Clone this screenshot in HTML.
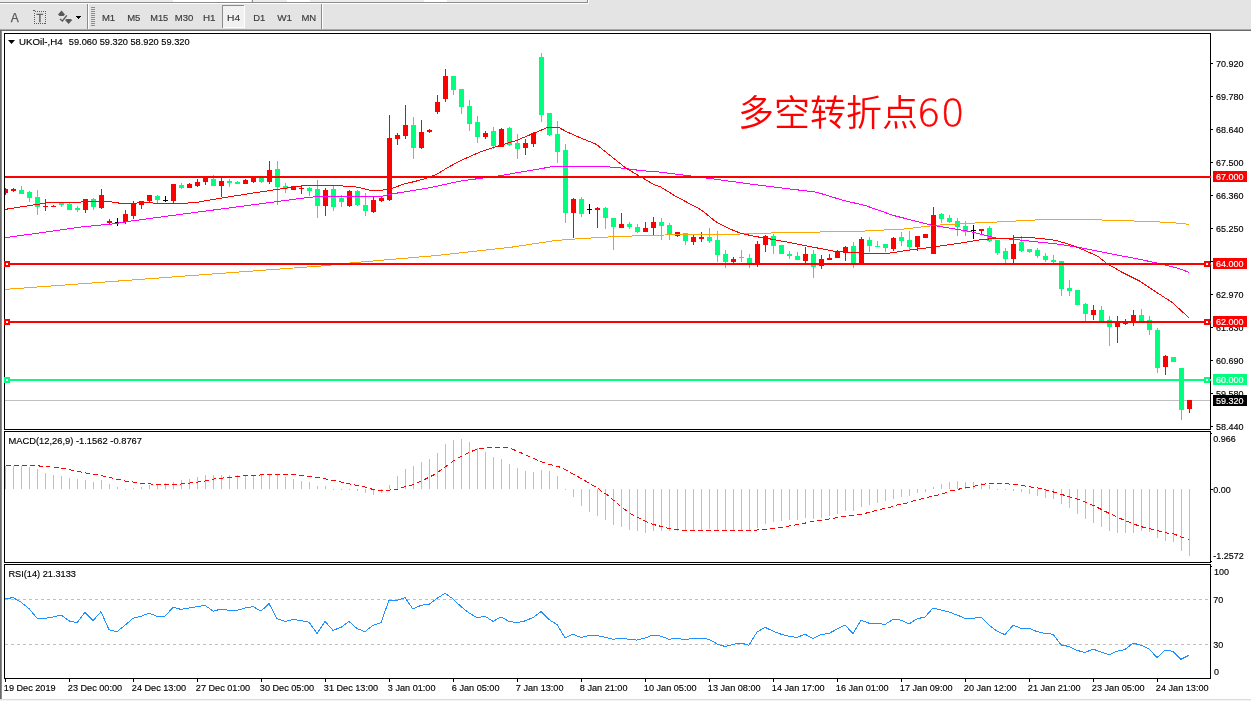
<!DOCTYPE html><html><head><meta charset="utf-8"><title>UKOil H4</title>
<style>
html,body{margin:0;padding:0;background:#fff;}
body{width:1251px;height:701px;overflow:hidden;position:relative;font-family:"Liberation Sans","Noto Sans CJK SC",sans-serif;}
svg{position:absolute;left:0;top:0;display:block}
text{font-family:"Liberation Sans","Noto Sans CJK SC",sans-serif;}
.ax{font-size:9.6px;fill:#000;stroke:#000;stroke-width:0.15px}.axw{font-size:9.6px;fill:#fff;stroke:#fff;stroke-width:0.15px}
.tb{font-size:9.6px;fill:#3a3a3a;stroke:#3a3a3a;stroke-width:0.15px}
.cj{font-family:"Liberation Sans","Noto Sans CJK SC",sans-serif;font-weight:350;font-size:36px;fill:#ff0000}.dg{font-family:"DejaVu Sans","Liberation Sans",sans-serif;font-weight:200;font-size:37.5px;stroke:#ff0000;stroke-width:0.5px}
</style></head><body>
<svg width="1251" height="701" viewBox="0 0 1251 701">
<g shape-rendering="crispEdges">
<rect x="0" y="0" width="1251" height="701" fill="#ffffff"/>
<rect x="0" y="0" width="1251" height="29" fill="#e4e4e4"/>
<rect x="0" y="0" width="588" height="2" fill="#ececec"/>
<rect x="173" y="0" width="78" height="2" fill="#ffffff"/>
<rect x="287" y="0" width="23" height="2" fill="#ffffff"/>
<rect x="424" y="0" width="23" height="2" fill="#ffffff"/>
<rect x="0" y="2" width="588" height="1" fill="#8c8c8c"/>
<rect x="0" y="3" width="589" height="1" fill="#ffffff"/>
<rect x="587" y="0" width="1" height="3" fill="#8c8c8c"/>
<rect x="588" y="0" width="1" height="4" fill="#ffffff"/>
<rect x="252" y="0" width="1" height="2" fill="#8c8c8c"/>
<rect x="0" y="29" width="1251" height="1" fill="#a8a8a8"/>
<rect x="0" y="30" width="1251" height="1" fill="#6a6a6a"/>
<rect x="0" y="31" width="1" height="668" fill="#6a6a6a"/>
<rect x="1" y="31" width="1" height="668" fill="#8c8c8c"/>
<rect x="0" y="699" width="1251" height="1" fill="#dcdcdc"/>
<rect x="0" y="700" width="1251" height="1" fill="#f4f4f4"/>
<rect x="87" y="4" width="1" height="25" fill="#8c8c8c"/>
<rect x="88" y="4" width="1" height="25" fill="#ffffff"/>
<rect x="321" y="4" width="1" height="25" fill="#8c8c8c"/>
<rect x="322" y="4" width="1" height="25" fill="#ffffff"/>
<rect x="91" y="7" width="4" height="1" fill="#8c8c8c"/>
<rect x="91" y="9" width="4" height="1" fill="#8c8c8c"/>
<rect x="91" y="11" width="4" height="1" fill="#8c8c8c"/>
<rect x="91" y="13" width="4" height="1" fill="#8c8c8c"/>
<rect x="91" y="15" width="4" height="1" fill="#8c8c8c"/>
<rect x="91" y="17" width="4" height="1" fill="#8c8c8c"/>
<rect x="91" y="19" width="4" height="1" fill="#8c8c8c"/>
<rect x="91" y="21" width="4" height="1" fill="#8c8c8c"/>
<rect x="91" y="23" width="4" height="1" fill="#8c8c8c"/>
<rect x="91" y="25" width="4" height="1" fill="#8c8c8c"/>
<rect x="222" y="5" width="23" height="23" fill="#f1f1f1"/>
<rect x="222" y="5" width="22" height="1" fill="#8c8c8c"/>
<rect x="222" y="5" width="1" height="23" fill="#8c8c8c"/>
<rect x="223" y="27" width="22" height="1" fill="#ffffff"/>
<rect x="244" y="6" width="1" height="22" fill="#ffffff"/>
</g>
<text x="10.8" y="22" font-size="12" fill="#595959" stroke="#595959" stroke-width="0.25">A</text>
<rect x="34.5" y="11.5" width="11" height="12" fill="none" stroke="#595959" stroke-width="1" stroke-dasharray="1 1" shape-rendering="crispEdges"/>
<rect x="33" y="10" width="2" height="1" fill="#595959" shape-rendering="crispEdges"/>
<text x="36.4" y="22" font-size="11" fill="#595959" stroke="#595959" stroke-width="0.3">T</text>
<path d="M61.5 10.5 L65 14.5 L63.5 16 L59.5 16 L58 14.5 Z" fill="#595959"/>
<path d="M68.6 24 L72.2 20 L70.6 19 L66.6 19 L65 20 Z" fill="#595959"/>
<path d="M60 19 L62.4 21 L66.8 15.4" fill="none" stroke="#595959" stroke-width="1.3"/>
<path d="M76 16 L81 16 L78.5 19 Z" fill="#000" shape-rendering="crispEdges"/>
<text class="tb" x="101.9" y="21.2" textLength="13.3" lengthAdjust="spacingAndGlyphs">M1</text>
<text class="tb" x="127.2" y="21.2" textLength="13.2" lengthAdjust="spacingAndGlyphs">M5</text>
<text class="tb" x="150.2" y="21.2" textLength="18.0" lengthAdjust="spacingAndGlyphs">M15</text>
<text class="tb" x="174.8" y="21.2" textLength="18.6" lengthAdjust="spacingAndGlyphs">M30</text>
<text class="tb" x="202.9" y="21.2" textLength="12.6" lengthAdjust="spacingAndGlyphs">H1</text>
<text class="tb" x="227.0" y="21.2" textLength="13.1" lengthAdjust="spacingAndGlyphs">H4</text>
<text class="tb" x="253.2" y="21.2" textLength="12.1" lengthAdjust="spacingAndGlyphs">D1</text>
<text class="tb" x="277.3" y="21.2" textLength="14.8" lengthAdjust="spacingAndGlyphs">W1</text>
<text class="tb" x="301.4" y="21.2" textLength="14.8" lengthAdjust="spacingAndGlyphs">MN</text>
<g shape-rendering="crispEdges">
<rect x="4" y="33" width="1207" height="1" fill="#000000"/>
<rect x="4" y="429" width="1207" height="1" fill="#000000"/>
<rect x="4" y="33" width="1" height="397" fill="#000000"/>
<rect x="1210" y="33" width="1" height="397" fill="#000000"/>
<rect x="4" y="431" width="1207" height="1" fill="#000000"/>
<rect x="4" y="562" width="1207" height="1" fill="#000000"/>
<rect x="4" y="431" width="1" height="132" fill="#000000"/>
<rect x="1210" y="431" width="1" height="132" fill="#000000"/>
<rect x="4" y="564" width="1207" height="1" fill="#000000"/>
<rect x="4" y="678" width="1207" height="1" fill="#000000"/>
<rect x="4" y="564" width="1" height="115" fill="#000000"/>
<rect x="1210" y="564" width="1" height="115" fill="#000000"/>
<rect x="1211" y="433" width="1" height="1" fill="#000000"/>
<rect x="1211" y="561" width="1" height="1" fill="#000000"/>
<rect x="1211" y="566" width="1" height="1" fill="#000000"/>
<rect x="1211" y="63" width="2" height="1" fill="#000000"/>
<rect x="1211" y="96" width="2" height="1" fill="#000000"/>
<rect x="1211" y="129" width="2" height="1" fill="#000000"/>
<rect x="1211" y="162" width="2" height="1" fill="#000000"/>
<rect x="1211" y="195" width="2" height="1" fill="#000000"/>
<rect x="1211" y="228" width="2" height="1" fill="#000000"/>
<rect x="1211" y="261" width="2" height="1" fill="#000000"/>
<rect x="1211" y="294" width="2" height="1" fill="#000000"/>
<rect x="1211" y="327" width="2" height="1" fill="#000000"/>
<rect x="1211" y="360" width="2" height="1" fill="#000000"/>
<rect x="1211" y="393" width="2" height="1" fill="#000000"/>
<rect x="1211" y="426" width="2" height="1" fill="#000000"/>
<rect x="1211" y="489" width="2" height="1" fill="#000000"/>
<rect x="5" y="679" width="1" height="3" fill="#000000"/>
<rect x="69" y="679" width="1" height="3" fill="#000000"/>
<rect x="133" y="679" width="1" height="3" fill="#000000"/>
<rect x="197" y="679" width="1" height="3" fill="#000000"/>
<rect x="261" y="679" width="1" height="3" fill="#000000"/>
<rect x="325" y="679" width="1" height="3" fill="#000000"/>
<rect x="389" y="679" width="1" height="3" fill="#000000"/>
<rect x="453" y="679" width="1" height="3" fill="#000000"/>
<rect x="517" y="679" width="1" height="3" fill="#000000"/>
<rect x="581" y="679" width="1" height="3" fill="#000000"/>
<rect x="645" y="679" width="1" height="3" fill="#000000"/>
<rect x="709" y="679" width="1" height="3" fill="#000000"/>
<rect x="773" y="679" width="1" height="3" fill="#000000"/>
<rect x="837" y="679" width="1" height="3" fill="#000000"/>
<rect x="901" y="679" width="1" height="3" fill="#000000"/>
<rect x="965" y="679" width="1" height="3" fill="#000000"/>
<rect x="1029" y="679" width="1" height="3" fill="#000000"/>
<rect x="1093" y="679" width="1" height="3" fill="#000000"/>
<rect x="1157" y="679" width="1" height="3" fill="#000000"/>
<rect x="5" y="400" width="1205" height="1" fill="#c0c0c0"/>
</g>
<g shape-rendering="crispEdges">
<rect x="5" y="466" width="1" height="23" fill="#c0c0c0"/>
<rect x="13" y="466" width="1" height="23" fill="#c0c0c0"/>
<rect x="21" y="466" width="1" height="23" fill="#c0c0c0"/>
<rect x="29" y="467" width="1" height="22" fill="#c0c0c0"/>
<rect x="37" y="469" width="1" height="20" fill="#c0c0c0"/>
<rect x="45" y="473" width="1" height="16" fill="#c0c0c0"/>
<rect x="53" y="475" width="1" height="14" fill="#c0c0c0"/>
<rect x="61" y="476" width="1" height="13" fill="#c0c0c0"/>
<rect x="69" y="478" width="1" height="11" fill="#c0c0c0"/>
<rect x="77" y="479" width="1" height="10" fill="#c0c0c0"/>
<rect x="85" y="480" width="1" height="9" fill="#c0c0c0"/>
<rect x="93" y="482" width="1" height="7" fill="#c0c0c0"/>
<rect x="101" y="480" width="1" height="9" fill="#c0c0c0"/>
<rect x="109" y="484" width="1" height="5" fill="#c0c0c0"/>
<rect x="117" y="487" width="1" height="2" fill="#c0c0c0"/>
<rect x="125" y="489" width="1" height="1" fill="#c0c0c0"/>
<rect x="133" y="488" width="1" height="1" fill="#c0c0c0"/>
<rect x="141" y="487" width="1" height="2" fill="#c0c0c0"/>
<rect x="149" y="485" width="1" height="4" fill="#c0c0c0"/>
<rect x="157" y="484" width="1" height="5" fill="#c0c0c0"/>
<rect x="165" y="483" width="1" height="6" fill="#c0c0c0"/>
<rect x="173" y="482" width="1" height="7" fill="#c0c0c0"/>
<rect x="181" y="480" width="1" height="9" fill="#c0c0c0"/>
<rect x="189" y="479" width="1" height="10" fill="#c0c0c0"/>
<rect x="197" y="477" width="1" height="12" fill="#c0c0c0"/>
<rect x="205" y="475" width="1" height="14" fill="#c0c0c0"/>
<rect x="213" y="475" width="1" height="14" fill="#c0c0c0"/>
<rect x="221" y="475" width="1" height="14" fill="#c0c0c0"/>
<rect x="229" y="475" width="1" height="14" fill="#c0c0c0"/>
<rect x="237" y="475" width="1" height="14" fill="#c0c0c0"/>
<rect x="245" y="475" width="1" height="14" fill="#c0c0c0"/>
<rect x="253" y="475" width="1" height="14" fill="#c0c0c0"/>
<rect x="261" y="474" width="1" height="15" fill="#c0c0c0"/>
<rect x="269" y="474" width="1" height="15" fill="#c0c0c0"/>
<rect x="277" y="475" width="1" height="14" fill="#c0c0c0"/>
<rect x="285" y="477" width="1" height="12" fill="#c0c0c0"/>
<rect x="293" y="479" width="1" height="10" fill="#c0c0c0"/>
<rect x="301" y="481" width="1" height="8" fill="#c0c0c0"/>
<rect x="309" y="482" width="1" height="7" fill="#c0c0c0"/>
<rect x="317" y="486" width="1" height="3" fill="#c0c0c0"/>
<rect x="325" y="486" width="1" height="3" fill="#c0c0c0"/>
<rect x="333" y="489" width="1" height="1" fill="#c0c0c0"/>
<rect x="341" y="489" width="1" height="1" fill="#c0c0c0"/>
<rect x="349" y="489" width="1" height="1" fill="#c0c0c0"/>
<rect x="357" y="489" width="1" height="2" fill="#c0c0c0"/>
<rect x="365" y="489" width="1" height="4" fill="#c0c0c0"/>
<rect x="373" y="489" width="1" height="6" fill="#c0c0c0"/>
<rect x="381" y="489" width="1" height="4" fill="#c0c0c0"/>
<rect x="389" y="485" width="1" height="4" fill="#c0c0c0"/>
<rect x="397" y="476" width="1" height="13" fill="#c0c0c0"/>
<rect x="405" y="469" width="1" height="20" fill="#c0c0c0"/>
<rect x="413" y="466" width="1" height="23" fill="#c0c0c0"/>
<rect x="421" y="462" width="1" height="27" fill="#c0c0c0"/>
<rect x="429" y="459" width="1" height="30" fill="#c0c0c0"/>
<rect x="437" y="453" width="1" height="36" fill="#c0c0c0"/>
<rect x="445" y="444" width="1" height="45" fill="#c0c0c0"/>
<rect x="453" y="440" width="1" height="49" fill="#c0c0c0"/>
<rect x="461" y="439" width="1" height="50" fill="#c0c0c0"/>
<rect x="469" y="442" width="1" height="47" fill="#c0c0c0"/>
<rect x="477" y="448" width="1" height="41" fill="#c0c0c0"/>
<rect x="485" y="452" width="1" height="37" fill="#c0c0c0"/>
<rect x="493" y="457" width="1" height="32" fill="#c0c0c0"/>
<rect x="501" y="459" width="1" height="30" fill="#c0c0c0"/>
<rect x="509" y="464" width="1" height="25" fill="#c0c0c0"/>
<rect x="517" y="468" width="1" height="21" fill="#c0c0c0"/>
<rect x="525" y="471" width="1" height="18" fill="#c0c0c0"/>
<rect x="533" y="472" width="1" height="17" fill="#c0c0c0"/>
<rect x="541" y="470" width="1" height="19" fill="#c0c0c0"/>
<rect x="549" y="471" width="1" height="18" fill="#c0c0c0"/>
<rect x="557" y="476" width="1" height="13" fill="#c0c0c0"/>
<rect x="565" y="489" width="1" height="1" fill="#c0c0c0"/>
<rect x="573" y="489" width="1" height="8" fill="#c0c0c0"/>
<rect x="581" y="489" width="1" height="17" fill="#c0c0c0"/>
<rect x="589" y="489" width="1" height="23" fill="#c0c0c0"/>
<rect x="597" y="489" width="1" height="27" fill="#c0c0c0"/>
<rect x="605" y="489" width="1" height="31" fill="#c0c0c0"/>
<rect x="613" y="489" width="1" height="36" fill="#c0c0c0"/>
<rect x="621" y="489" width="1" height="38" fill="#c0c0c0"/>
<rect x="629" y="489" width="1" height="41" fill="#c0c0c0"/>
<rect x="637" y="489" width="1" height="42" fill="#c0c0c0"/>
<rect x="645" y="489" width="1" height="44" fill="#c0c0c0"/>
<rect x="653" y="489" width="1" height="42" fill="#c0c0c0"/>
<rect x="661" y="489" width="1" height="42" fill="#c0c0c0"/>
<rect x="669" y="489" width="1" height="42" fill="#c0c0c0"/>
<rect x="677" y="489" width="1" height="42" fill="#c0c0c0"/>
<rect x="685" y="489" width="1" height="42" fill="#c0c0c0"/>
<rect x="693" y="489" width="1" height="42" fill="#c0c0c0"/>
<rect x="701" y="489" width="1" height="41" fill="#c0c0c0"/>
<rect x="709" y="489" width="1" height="40" fill="#c0c0c0"/>
<rect x="717" y="489" width="1" height="41" fill="#c0c0c0"/>
<rect x="725" y="489" width="1" height="42" fill="#c0c0c0"/>
<rect x="733" y="489" width="1" height="42" fill="#c0c0c0"/>
<rect x="741" y="489" width="1" height="42" fill="#c0c0c0"/>
<rect x="749" y="489" width="1" height="42" fill="#c0c0c0"/>
<rect x="757" y="489" width="1" height="39" fill="#c0c0c0"/>
<rect x="765" y="489" width="1" height="35" fill="#c0c0c0"/>
<rect x="773" y="489" width="1" height="33" fill="#c0c0c0"/>
<rect x="781" y="489" width="1" height="32" fill="#c0c0c0"/>
<rect x="789" y="489" width="1" height="31" fill="#c0c0c0"/>
<rect x="797" y="489" width="1" height="31" fill="#c0c0c0"/>
<rect x="805" y="489" width="1" height="29" fill="#c0c0c0"/>
<rect x="813" y="489" width="1" height="30" fill="#c0c0c0"/>
<rect x="821" y="489" width="1" height="29" fill="#c0c0c0"/>
<rect x="829" y="489" width="1" height="27" fill="#c0c0c0"/>
<rect x="837" y="489" width="1" height="25" fill="#c0c0c0"/>
<rect x="845" y="489" width="1" height="22" fill="#c0c0c0"/>
<rect x="853" y="489" width="1" height="22" fill="#c0c0c0"/>
<rect x="861" y="489" width="1" height="18" fill="#c0c0c0"/>
<rect x="869" y="489" width="1" height="16" fill="#c0c0c0"/>
<rect x="877" y="489" width="1" height="14" fill="#c0c0c0"/>
<rect x="885" y="489" width="1" height="12" fill="#c0c0c0"/>
<rect x="893" y="489" width="1" height="10" fill="#c0c0c0"/>
<rect x="901" y="489" width="1" height="8" fill="#c0c0c0"/>
<rect x="909" y="489" width="1" height="7" fill="#c0c0c0"/>
<rect x="917" y="489" width="1" height="4" fill="#c0c0c0"/>
<rect x="925" y="489" width="1" height="3" fill="#c0c0c0"/>
<rect x="933" y="487" width="1" height="2" fill="#c0c0c0"/>
<rect x="941" y="484" width="1" height="5" fill="#c0c0c0"/>
<rect x="949" y="482" width="1" height="7" fill="#c0c0c0"/>
<rect x="957" y="481" width="1" height="8" fill="#c0c0c0"/>
<rect x="965" y="482" width="1" height="7" fill="#c0c0c0"/>
<rect x="973" y="482" width="1" height="7" fill="#c0c0c0"/>
<rect x="981" y="483" width="1" height="6" fill="#c0c0c0"/>
<rect x="989" y="485" width="1" height="4" fill="#c0c0c0"/>
<rect x="997" y="489" width="1" height="1" fill="#c0c0c0"/>
<rect x="1005" y="489" width="1" height="1" fill="#c0c0c0"/>
<rect x="1013" y="489" width="1" height="2" fill="#c0c0c0"/>
<rect x="1021" y="489" width="1" height="3" fill="#c0c0c0"/>
<rect x="1029" y="489" width="1" height="5" fill="#c0c0c0"/>
<rect x="1037" y="489" width="1" height="7" fill="#c0c0c0"/>
<rect x="1045" y="489" width="1" height="9" fill="#c0c0c0"/>
<rect x="1053" y="489" width="1" height="10" fill="#c0c0c0"/>
<rect x="1061" y="489" width="1" height="15" fill="#c0c0c0"/>
<rect x="1069" y="489" width="1" height="19" fill="#c0c0c0"/>
<rect x="1077" y="489" width="1" height="25" fill="#c0c0c0"/>
<rect x="1085" y="489" width="1" height="30" fill="#c0c0c0"/>
<rect x="1093" y="489" width="1" height="34" fill="#c0c0c0"/>
<rect x="1101" y="489" width="1" height="38" fill="#c0c0c0"/>
<rect x="1109" y="489" width="1" height="42" fill="#c0c0c0"/>
<rect x="1117" y="489" width="1" height="44" fill="#c0c0c0"/>
<rect x="1125" y="489" width="1" height="44" fill="#c0c0c0"/>
<rect x="1133" y="489" width="1" height="44" fill="#c0c0c0"/>
<rect x="1141" y="489" width="1" height="42" fill="#c0c0c0"/>
<rect x="1149" y="489" width="1" height="43" fill="#c0c0c0"/>
<rect x="1157" y="489" width="1" height="49" fill="#c0c0c0"/>
<rect x="1165" y="489" width="1" height="52" fill="#c0c0c0"/>
<rect x="1173" y="489" width="1" height="53" fill="#c0c0c0"/>
<rect x="1181" y="489" width="1" height="62" fill="#c0c0c0"/>
<rect x="1189" y="489" width="1" height="67" fill="#c0c0c0"/>
<line x1="5" y1="599.5" x2="1210" y2="599.5" stroke="#c0c0c0" stroke-width="1" stroke-dasharray="3 3"/>
<line x1="5" y1="644.5" x2="1210" y2="644.5" stroke="#c0c0c0" stroke-width="1" stroke-dasharray="3 3"/>
</g>
<polyline points="5.6,465.9 38.4,465.9 64.0,468.4 84.4,472.8 102.3,475.8 125.4,481.0 143.3,483.5 166.3,485.0 184.2,483.8 204.7,481.2 212.3,479.2 243.0,475.8 268.6,474.6 294.2,474.8 300.0,475.3 315.3,477.1 333.3,480.4 351.2,484.3 366.5,487.4 374.2,489.9 381.9,490.7 397.2,489.4 404.9,486.8 412.6,484.8 422.8,480.4 433.0,475.3 443.3,468.4 453.5,460.7 463.7,454.9 476.5,449.2 489.3,447.7 502.1,447.2 509.8,448.0 520.0,452.3 532.8,458.2 548.1,464.3 558.4,466.4 566.1,470.2 576.3,475.8 589.1,483.0 599.3,489.4 603.8,493.2 607.0,494.5 612.8,499.6 621.7,507.3 630.7,513.7 640.9,518.8 651.2,523.9 661.4,526.5 669.1,528.5 681.9,530.3 753.5,530.3 774.0,528.5 789.3,526.0 804.7,523.2 812.3,521.4 830.2,518.8 845.6,516.3 860.9,514.5 876.3,510.4 891.6,506.8 900.0,504.2 907.0,503.0 915.3,500.4 933.3,495.8 940.9,494.5 951.2,490.7 964.0,488.1 974.2,486.3 981.9,484.3 989.5,483.5 1004.9,483.5 1022.8,485.6 1038.1,488.1 1053.5,492.0 1068.8,496.6 1079.1,499.6 1094.4,506.0 1109.8,513.7 1125.1,520.6 1140.5,526.5 1155.8,530.3 1166.1,532.9 1173.7,533.7 1181.4,537.2 1189.1,539.3" fill="none" stroke="#ff0000" stroke-width="1" stroke-dasharray="5 3" shape-rendering="crispEdges"/>
<polyline points="5,598.9 13,597.6 21,602.2 29,608.6 37,618.3 45,618.3 53,617.0 61,615.0 69,620.9 77,622.7 85,612.4 93,620.6 101,611.7 109,629.8 117,631.6 125,625.2 133,618.3 141,616.3 149,613.2 157,616.3 165,616.3 173,607.3 181,609.4 189,608.1 197,606.6 205,605.3 213,611.2 221,609.1 229,610.4 237,610.4 245,608.1 253,606.6 261,611.2 269,603.5 277,618.8 285,621.4 293,619.4 301,620.6 309,622.2 317,633.4 325,621.4 333,630.4 341,627.3 349,621.4 357,628.6 365,631.6 373,625.2 381,622.7 389,600.2 397,600.2 405,597.6 413,609.1 421,605.3 429,604.3 437,598.4 445,593.3 453,598.9 461,606.6 469,613.0 477,617.6 485,616.3 493,621.4 501,616.8 509,621.4 517,622.7 525,620.9 533,617.6 541,611.7 549,619.6 557,624.5 565,638.0 573,634.2 581,637.5 589,635.5 597,635.5 605,637.3 613,639.3 621,638.0 629,639.3 637,640.1 645,638.0 653,635.0 661,636.2 669,639.3 677,638.0 685,640.1 693,638.0 701,638.0 709,639.3 717,643.9 725,646.5 733,644.4 741,643.1 749,645.2 757,632.1 765,627.3 773,631.1 781,634.2 789,636.2 797,637.5 805,634.2 813,638.5 821,634.7 829,633.4 837,629.1 845,625.2 853,633.4 861,620.1 869,623.2 877,623.2 885,624.5 893,619.4 901,620.1 909,624.0 917,618.8 925,617.0 933,608.1 941,609.9 949,611.9 957,615.0 965,618.3 973,618.3 981,617.0 989,625.2 997,631.1 1005,634.7 1013,625.2 1021,628.3 1029,628.3 1037,631.6 1045,633.4 1053,634.2 1061,644.9 1069,646.5 1077,650.3 1085,652.6 1093,649.0 1101,652.1 1109,654.7 1117,651.3 1125,649.5 1133,643.1 1141,645.2 1149,648.8 1157,657.7 1165,650.0 1173,651.3 1181,659.3 1189,655.2" fill="none" stroke="#1e90ff" stroke-width="1" shape-rendering="crispEdges"/>
<g shape-rendering="crispEdges">
<rect x="5" y="188" width="1" height="7" fill="#ff0000"/>
<rect x="5" y="189" width="3" height="4" fill="#ff0000"/>
<rect x="13" y="188" width="1" height="4" fill="#ff0000"/>
<rect x="11" y="189" width="5" height="2" fill="#ff0000"/>
<rect x="21" y="186" width="1" height="8" fill="#00ff7f"/>
<rect x="19" y="190" width="5" height="4" fill="#00ff7f"/>
<rect x="29" y="191" width="1" height="11" fill="#00ff7f"/>
<rect x="27" y="192" width="5" height="6" fill="#00ff7f"/>
<rect x="37" y="190" width="1" height="25" fill="#00ff7f"/>
<rect x="35" y="197" width="5" height="10" fill="#00ff7f"/>
<rect x="45" y="199" width="1" height="12" fill="#ff0000"/>
<rect x="43" y="206" width="5" height="1" fill="#ff0000"/>
<rect x="53" y="205" width="1" height="2" fill="#ff0000"/>
<rect x="51" y="206" width="5" height="1" fill="#ff0000"/>
<rect x="61" y="203" width="1" height="4" fill="#00ff7f"/>
<rect x="59" y="203" width="5" height="2" fill="#00ff7f"/>
<rect x="69" y="203" width="1" height="7" fill="#00ff7f"/>
<rect x="67" y="204" width="5" height="6" fill="#00ff7f"/>
<rect x="77" y="206" width="1" height="6" fill="#00ff7f"/>
<rect x="75" y="208" width="5" height="2" fill="#00ff7f"/>
<rect x="85" y="199" width="1" height="14" fill="#ff0000"/>
<rect x="83" y="199" width="5" height="11" fill="#ff0000"/>
<rect x="93" y="198" width="1" height="12" fill="#00ff7f"/>
<rect x="91" y="199" width="5" height="8" fill="#00ff7f"/>
<rect x="101" y="189" width="1" height="20" fill="#ff0000"/>
<rect x="99" y="195" width="5" height="13" fill="#ff0000"/>
<rect x="109" y="219" width="1" height="5" fill="#ff0000"/>
<rect x="107" y="221" width="5" height="2" fill="#ff0000"/>
<rect x="117" y="218" width="1" height="8" fill="#000000"/>
<rect x="115" y="222" width="5" height="1" fill="#000000"/>
<rect x="125" y="210" width="1" height="14" fill="#ff0000"/>
<rect x="123" y="214" width="5" height="8" fill="#ff0000"/>
<rect x="133" y="201" width="1" height="18" fill="#ff0000"/>
<rect x="131" y="203" width="5" height="13" fill="#ff0000"/>
<rect x="141" y="201" width="1" height="8" fill="#ff0000"/>
<rect x="139" y="201" width="5" height="4" fill="#ff0000"/>
<rect x="149" y="195" width="1" height="7" fill="#ff0000"/>
<rect x="147" y="195" width="5" height="6" fill="#ff0000"/>
<rect x="157" y="195" width="1" height="8" fill="#00ff7f"/>
<rect x="155" y="196" width="5" height="4" fill="#00ff7f"/>
<rect x="165" y="196" width="1" height="6" fill="#000000"/>
<rect x="163" y="200" width="5" height="1" fill="#000000"/>
<rect x="173" y="184" width="1" height="19" fill="#ff0000"/>
<rect x="171" y="184" width="5" height="17" fill="#ff0000"/>
<rect x="181" y="183" width="1" height="6" fill="#00ff7f"/>
<rect x="179" y="185" width="5" height="3" fill="#00ff7f"/>
<rect x="189" y="183" width="1" height="5" fill="#ff0000"/>
<rect x="187" y="184" width="5" height="4" fill="#ff0000"/>
<rect x="197" y="179" width="1" height="8" fill="#ff0000"/>
<rect x="195" y="182" width="5" height="4" fill="#ff0000"/>
<rect x="205" y="177" width="1" height="8" fill="#ff0000"/>
<rect x="203" y="177" width="5" height="5" fill="#ff0000"/>
<rect x="213" y="175" width="1" height="11" fill="#00ff7f"/>
<rect x="211" y="179" width="5" height="7" fill="#00ff7f"/>
<rect x="221" y="178" width="1" height="19" fill="#ff0000"/>
<rect x="219" y="181" width="5" height="5" fill="#ff0000"/>
<rect x="229" y="179" width="1" height="8" fill="#00ff7f"/>
<rect x="227" y="181" width="5" height="2" fill="#00ff7f"/>
<rect x="237" y="181" width="1" height="3" fill="#00ff7f"/>
<rect x="235" y="182" width="5" height="2" fill="#00ff7f"/>
<rect x="245" y="179" width="1" height="5" fill="#ff0000"/>
<rect x="243" y="180" width="5" height="4" fill="#ff0000"/>
<rect x="253" y="177" width="1" height="6" fill="#ff0000"/>
<rect x="251" y="177" width="5" height="5" fill="#ff0000"/>
<rect x="261" y="177" width="1" height="6" fill="#00ff7f"/>
<rect x="259" y="178" width="5" height="4" fill="#00ff7f"/>
<rect x="269" y="161" width="1" height="23" fill="#ff0000"/>
<rect x="267" y="170" width="5" height="12" fill="#ff0000"/>
<rect x="277" y="161" width="1" height="44" fill="#00ff7f"/>
<rect x="275" y="169" width="5" height="18" fill="#00ff7f"/>
<rect x="285" y="183" width="1" height="10" fill="#00ff7f"/>
<rect x="283" y="186" width="5" height="3" fill="#00ff7f"/>
<rect x="293" y="186" width="1" height="4" fill="#ff0000"/>
<rect x="291" y="186" width="5" height="4" fill="#ff0000"/>
<rect x="301" y="185" width="1" height="9" fill="#ff0000"/>
<rect x="299" y="188" width="5" height="1" fill="#ff0000"/>
<rect x="309" y="187" width="1" height="9" fill="#00ff7f"/>
<rect x="307" y="188" width="5" height="3" fill="#00ff7f"/>
<rect x="317" y="180" width="1" height="38" fill="#00ff7f"/>
<rect x="315" y="189" width="5" height="17" fill="#00ff7f"/>
<rect x="325" y="188" width="1" height="28" fill="#ff0000"/>
<rect x="323" y="190" width="5" height="16" fill="#ff0000"/>
<rect x="333" y="186" width="1" height="25" fill="#00ff7f"/>
<rect x="331" y="189" width="5" height="18" fill="#00ff7f"/>
<rect x="341" y="195" width="1" height="12" fill="#00ff7f"/>
<rect x="339" y="198" width="5" height="4" fill="#00ff7f"/>
<rect x="349" y="190" width="1" height="17" fill="#ff0000"/>
<rect x="347" y="191" width="5" height="15" fill="#ff0000"/>
<rect x="357" y="190" width="1" height="16" fill="#00ff7f"/>
<rect x="355" y="191" width="5" height="14" fill="#00ff7f"/>
<rect x="365" y="193" width="1" height="23" fill="#00ff7f"/>
<rect x="363" y="205" width="5" height="6" fill="#00ff7f"/>
<rect x="373" y="196" width="1" height="17" fill="#ff0000"/>
<rect x="371" y="200" width="5" height="12" fill="#ff0000"/>
<rect x="381" y="196" width="1" height="6" fill="#ff0000"/>
<rect x="379" y="198" width="5" height="3" fill="#ff0000"/>
<rect x="389" y="115" width="1" height="86" fill="#ff0000"/>
<rect x="387" y="138" width="5" height="62" fill="#ff0000"/>
<rect x="397" y="133" width="1" height="12" fill="#ff0000"/>
<rect x="395" y="135" width="5" height="4" fill="#ff0000"/>
<rect x="405" y="105" width="1" height="34" fill="#ff0000"/>
<rect x="403" y="125" width="5" height="11" fill="#ff0000"/>
<rect x="413" y="117" width="1" height="42" fill="#00ff7f"/>
<rect x="411" y="125" width="5" height="23" fill="#00ff7f"/>
<rect x="421" y="120" width="1" height="29" fill="#ff0000"/>
<rect x="419" y="132" width="5" height="16" fill="#ff0000"/>
<rect x="429" y="129" width="1" height="4" fill="#ff0000"/>
<rect x="427" y="130" width="5" height="2" fill="#ff0000"/>
<rect x="437" y="95" width="1" height="19" fill="#ff0000"/>
<rect x="435" y="102" width="5" height="10" fill="#ff0000"/>
<rect x="445" y="69" width="1" height="33" fill="#ff0000"/>
<rect x="443" y="76" width="5" height="23" fill="#ff0000"/>
<rect x="453" y="76" width="1" height="19" fill="#00ff7f"/>
<rect x="451" y="76" width="5" height="14" fill="#00ff7f"/>
<rect x="461" y="89" width="1" height="25" fill="#00ff7f"/>
<rect x="459" y="89" width="5" height="18" fill="#00ff7f"/>
<rect x="469" y="100" width="1" height="31" fill="#00ff7f"/>
<rect x="467" y="106" width="5" height="18" fill="#00ff7f"/>
<rect x="477" y="116" width="1" height="27" fill="#00ff7f"/>
<rect x="475" y="122" width="5" height="15" fill="#00ff7f"/>
<rect x="485" y="131" width="1" height="8" fill="#ff0000"/>
<rect x="483" y="133" width="5" height="4" fill="#ff0000"/>
<rect x="493" y="127" width="1" height="22" fill="#00ff7f"/>
<rect x="491" y="131" width="5" height="15" fill="#00ff7f"/>
<rect x="501" y="128" width="1" height="19" fill="#ff0000"/>
<rect x="499" y="129" width="5" height="18" fill="#ff0000"/>
<rect x="509" y="127" width="1" height="19" fill="#00ff7f"/>
<rect x="507" y="128" width="5" height="17" fill="#00ff7f"/>
<rect x="517" y="134" width="1" height="25" fill="#00ff7f"/>
<rect x="515" y="143" width="5" height="6" fill="#00ff7f"/>
<rect x="525" y="139" width="1" height="16" fill="#ff0000"/>
<rect x="523" y="143" width="5" height="5" fill="#ff0000"/>
<rect x="533" y="132" width="1" height="15" fill="#ff0000"/>
<rect x="531" y="133" width="5" height="11" fill="#ff0000"/>
<rect x="541" y="53" width="1" height="69" fill="#00ff7f"/>
<rect x="539" y="57" width="5" height="58" fill="#00ff7f"/>
<rect x="549" y="113" width="1" height="23" fill="#00ff7f"/>
<rect x="547" y="113" width="5" height="22" fill="#00ff7f"/>
<rect x="557" y="121" width="1" height="42" fill="#00ff7f"/>
<rect x="555" y="134" width="5" height="18" fill="#00ff7f"/>
<rect x="565" y="144" width="1" height="79" fill="#00ff7f"/>
<rect x="563" y="150" width="5" height="63" fill="#00ff7f"/>
<rect x="573" y="198" width="1" height="40" fill="#ff0000"/>
<rect x="571" y="199" width="5" height="14" fill="#ff0000"/>
<rect x="581" y="197" width="1" height="20" fill="#00ff7f"/>
<rect x="579" y="199" width="5" height="15" fill="#00ff7f"/>
<rect x="589" y="204" width="1" height="10" fill="#000000"/>
<rect x="587" y="209" width="5" height="1" fill="#000000"/>
<rect x="597" y="207" width="1" height="21" fill="#ff0000"/>
<rect x="595" y="208" width="5" height="2" fill="#ff0000"/>
<rect x="605" y="207" width="1" height="22" fill="#00ff7f"/>
<rect x="603" y="208" width="5" height="10" fill="#00ff7f"/>
<rect x="613" y="218" width="1" height="32" fill="#00ff7f"/>
<rect x="611" y="218" width="5" height="9" fill="#00ff7f"/>
<rect x="621" y="213" width="1" height="15" fill="#ff0000"/>
<rect x="619" y="224" width="5" height="4" fill="#ff0000"/>
<rect x="629" y="222" width="1" height="7" fill="#00ff7f"/>
<rect x="627" y="224" width="5" height="3" fill="#00ff7f"/>
<rect x="637" y="224" width="1" height="9" fill="#00ff7f"/>
<rect x="635" y="227" width="5" height="5" fill="#00ff7f"/>
<rect x="645" y="222" width="1" height="10" fill="#ff0000"/>
<rect x="643" y="228" width="5" height="4" fill="#ff0000"/>
<rect x="653" y="217" width="1" height="18" fill="#ff0000"/>
<rect x="651" y="222" width="5" height="6" fill="#ff0000"/>
<rect x="661" y="218" width="1" height="22" fill="#00ff7f"/>
<rect x="659" y="222" width="5" height="4" fill="#00ff7f"/>
<rect x="669" y="223" width="1" height="17" fill="#00ff7f"/>
<rect x="667" y="225" width="5" height="10" fill="#00ff7f"/>
<rect x="677" y="232" width="1" height="5" fill="#ff0000"/>
<rect x="675" y="232" width="5" height="4" fill="#ff0000"/>
<rect x="685" y="233" width="1" height="12" fill="#00ff7f"/>
<rect x="683" y="233" width="5" height="8" fill="#00ff7f"/>
<rect x="693" y="235" width="1" height="10" fill="#ff0000"/>
<rect x="691" y="237" width="5" height="5" fill="#ff0000"/>
<rect x="701" y="232" width="1" height="10" fill="#ff0000"/>
<rect x="699" y="237" width="5" height="2" fill="#ff0000"/>
<rect x="709" y="228" width="1" height="15" fill="#00ff7f"/>
<rect x="707" y="237" width="5" height="4" fill="#00ff7f"/>
<rect x="717" y="231" width="1" height="31" fill="#00ff7f"/>
<rect x="715" y="240" width="5" height="15" fill="#00ff7f"/>
<rect x="725" y="250" width="1" height="18" fill="#00ff7f"/>
<rect x="723" y="254" width="5" height="8" fill="#00ff7f"/>
<rect x="733" y="257" width="1" height="6" fill="#ff0000"/>
<rect x="731" y="259" width="5" height="3" fill="#ff0000"/>
<rect x="741" y="250" width="1" height="12" fill="#00ff7f"/>
<rect x="739" y="257" width="5" height="1" fill="#00ff7f"/>
<rect x="749" y="254" width="1" height="14" fill="#00ff7f"/>
<rect x="747" y="258" width="5" height="5" fill="#00ff7f"/>
<rect x="757" y="241" width="1" height="26" fill="#ff0000"/>
<rect x="755" y="244" width="5" height="19" fill="#ff0000"/>
<rect x="765" y="235" width="1" height="17" fill="#ff0000"/>
<rect x="763" y="236" width="5" height="9" fill="#ff0000"/>
<rect x="773" y="234" width="1" height="20" fill="#00ff7f"/>
<rect x="771" y="236" width="5" height="10" fill="#00ff7f"/>
<rect x="781" y="245" width="1" height="9" fill="#00ff7f"/>
<rect x="779" y="245" width="5" height="9" fill="#00ff7f"/>
<rect x="789" y="251" width="1" height="8" fill="#00ff7f"/>
<rect x="787" y="254" width="5" height="2" fill="#00ff7f"/>
<rect x="797" y="252" width="1" height="8" fill="#00ff7f"/>
<rect x="795" y="256" width="5" height="4" fill="#00ff7f"/>
<rect x="805" y="247" width="1" height="16" fill="#ff0000"/>
<rect x="803" y="254" width="5" height="7" fill="#ff0000"/>
<rect x="813" y="250" width="1" height="28" fill="#00ff7f"/>
<rect x="811" y="254" width="5" height="13" fill="#00ff7f"/>
<rect x="821" y="255" width="1" height="14" fill="#ff0000"/>
<rect x="819" y="259" width="5" height="7" fill="#ff0000"/>
<rect x="829" y="254" width="1" height="6" fill="#ff0000"/>
<rect x="827" y="258" width="5" height="2" fill="#ff0000"/>
<rect x="837" y="250" width="1" height="8" fill="#ff0000"/>
<rect x="835" y="251" width="5" height="7" fill="#ff0000"/>
<rect x="845" y="246" width="1" height="15" fill="#ff0000"/>
<rect x="843" y="247" width="5" height="6" fill="#ff0000"/>
<rect x="853" y="242" width="1" height="26" fill="#00ff7f"/>
<rect x="851" y="246" width="5" height="17" fill="#00ff7f"/>
<rect x="861" y="237" width="1" height="27" fill="#ff0000"/>
<rect x="859" y="239" width="5" height="25" fill="#ff0000"/>
<rect x="869" y="237" width="1" height="15" fill="#00ff7f"/>
<rect x="867" y="240" width="5" height="6" fill="#00ff7f"/>
<rect x="877" y="241" width="1" height="5" fill="#00ff7f"/>
<rect x="875" y="246" width="5" height="1" fill="#00ff7f"/>
<rect x="885" y="244" width="1" height="8" fill="#00ff7f"/>
<rect x="883" y="244" width="5" height="4" fill="#00ff7f"/>
<rect x="893" y="237" width="1" height="14" fill="#ff0000"/>
<rect x="891" y="238" width="5" height="11" fill="#ff0000"/>
<rect x="901" y="232" width="1" height="14" fill="#00ff7f"/>
<rect x="899" y="237" width="5" height="4" fill="#00ff7f"/>
<rect x="909" y="231" width="1" height="19" fill="#00ff7f"/>
<rect x="907" y="240" width="5" height="7" fill="#00ff7f"/>
<rect x="917" y="236" width="1" height="15" fill="#ff0000"/>
<rect x="915" y="236" width="5" height="11" fill="#ff0000"/>
<rect x="925" y="234" width="1" height="4" fill="#ff0000"/>
<rect x="923" y="234" width="5" height="4" fill="#ff0000"/>
<rect x="933" y="207" width="1" height="47" fill="#ff0000"/>
<rect x="931" y="215" width="5" height="39" fill="#ff0000"/>
<rect x="941" y="213" width="1" height="10" fill="#00ff7f"/>
<rect x="939" y="214" width="5" height="5" fill="#00ff7f"/>
<rect x="949" y="215" width="1" height="8" fill="#00ff7f"/>
<rect x="947" y="218" width="5" height="4" fill="#00ff7f"/>
<rect x="957" y="218" width="1" height="18" fill="#00ff7f"/>
<rect x="955" y="221" width="5" height="6" fill="#00ff7f"/>
<rect x="965" y="221" width="1" height="15" fill="#00ff7f"/>
<rect x="963" y="226" width="5" height="6" fill="#00ff7f"/>
<rect x="973" y="225" width="1" height="14" fill="#000000"/>
<rect x="971" y="230" width="5" height="1" fill="#000000"/>
<rect x="981" y="229" width="1" height="5" fill="#ff0000"/>
<rect x="979" y="229" width="5" height="2" fill="#ff0000"/>
<rect x="989" y="226" width="1" height="16" fill="#00ff7f"/>
<rect x="987" y="228" width="5" height="13" fill="#00ff7f"/>
<rect x="997" y="240" width="1" height="15" fill="#00ff7f"/>
<rect x="995" y="240" width="5" height="13" fill="#00ff7f"/>
<rect x="1005" y="248" width="1" height="15" fill="#00ff7f"/>
<rect x="1003" y="251" width="5" height="8" fill="#00ff7f"/>
<rect x="1013" y="235" width="1" height="28" fill="#ff0000"/>
<rect x="1011" y="244" width="5" height="15" fill="#ff0000"/>
<rect x="1021" y="236" width="1" height="16" fill="#00ff7f"/>
<rect x="1019" y="242" width="5" height="9" fill="#00ff7f"/>
<rect x="1029" y="249" width="1" height="4" fill="#00ff7f"/>
<rect x="1027" y="249" width="5" height="3" fill="#00ff7f"/>
<rect x="1037" y="248" width="1" height="10" fill="#00ff7f"/>
<rect x="1035" y="250" width="5" height="6" fill="#00ff7f"/>
<rect x="1045" y="253" width="1" height="9" fill="#00ff7f"/>
<rect x="1043" y="256" width="5" height="4" fill="#00ff7f"/>
<rect x="1053" y="255" width="1" height="8" fill="#00ff7f"/>
<rect x="1051" y="260" width="5" height="2" fill="#00ff7f"/>
<rect x="1061" y="261" width="1" height="35" fill="#00ff7f"/>
<rect x="1059" y="261" width="5" height="28" fill="#00ff7f"/>
<rect x="1069" y="280" width="1" height="16" fill="#00ff7f"/>
<rect x="1067" y="288" width="5" height="3" fill="#00ff7f"/>
<rect x="1077" y="290" width="1" height="15" fill="#00ff7f"/>
<rect x="1075" y="290" width="5" height="15" fill="#00ff7f"/>
<rect x="1085" y="303" width="1" height="18" fill="#00ff7f"/>
<rect x="1083" y="304" width="5" height="10" fill="#00ff7f"/>
<rect x="1093" y="305" width="1" height="15" fill="#ff0000"/>
<rect x="1091" y="310" width="5" height="5" fill="#ff0000"/>
<rect x="1101" y="306" width="1" height="15" fill="#00ff7f"/>
<rect x="1099" y="310" width="5" height="11" fill="#00ff7f"/>
<rect x="1109" y="316" width="1" height="30" fill="#00ff7f"/>
<rect x="1107" y="320" width="5" height="7" fill="#00ff7f"/>
<rect x="1117" y="316" width="1" height="27" fill="#ff0000"/>
<rect x="1115" y="321" width="5" height="6" fill="#ff0000"/>
<rect x="1125" y="319" width="1" height="6" fill="#ff0000"/>
<rect x="1123" y="321" width="5" height="3" fill="#ff0000"/>
<rect x="1133" y="310" width="1" height="16" fill="#ff0000"/>
<rect x="1131" y="315" width="5" height="7" fill="#ff0000"/>
<rect x="1141" y="309" width="1" height="12" fill="#00ff7f"/>
<rect x="1139" y="315" width="5" height="6" fill="#00ff7f"/>
<rect x="1149" y="316" width="1" height="19" fill="#00ff7f"/>
<rect x="1147" y="320" width="5" height="10" fill="#00ff7f"/>
<rect x="1157" y="328" width="1" height="45" fill="#00ff7f"/>
<rect x="1155" y="330" width="5" height="38" fill="#00ff7f"/>
<rect x="1165" y="355" width="1" height="20" fill="#ff0000"/>
<rect x="1163" y="356" width="5" height="11" fill="#ff0000"/>
<rect x="1173" y="357" width="1" height="5" fill="#00ff7f"/>
<rect x="1171" y="357" width="5" height="5" fill="#00ff7f"/>
<rect x="1181" y="368" width="1" height="52" fill="#00ff7f"/>
<rect x="1179" y="368" width="5" height="42" fill="#00ff7f"/>
<rect x="1189" y="400" width="1" height="13" fill="#ff0000"/>
<rect x="1187" y="400" width="5" height="9" fill="#ff0000"/>
</g>
<polyline points="5.0,289.4 96.0,282.7 192.0,275.5 280.0,269.0 321.0,266.0 353.0,262.7 433.5,255.8 510.0,247.4 555.0,240.6 569.0,239.4 601.0,237.4 618.0,236.4 650.0,235.5 688.5,234.2 737.0,234.4 745.0,233.4 769.0,233.3 775.0,232.3 817.0,232.3 825.0,231.5 855.0,231.5 904.0,229.0 937.0,225.2 970.5,223.2 1008.0,221.5 1025.0,220.5 1045.0,219.5 1085.0,219.5 1118.0,220.5 1150.0,221.5 1170.0,222.5 1182.0,223.5 1189.0,224.5" fill="none" stroke="#ffa500" stroke-width="1" shape-rendering="crispEdges"/>
<polyline points="5.0,237.7 42.4,232.5 82.2,226.8 113.0,223.9 128.4,221.4 160.0,217.1 310.0,197.2 320.0,196.5 382.0,196.3 392.0,193.9 428.0,188.1 460.0,181.1 500.0,175.7 525.7,171.2 554.0,166.4 601.0,166.4 618.0,167.6 641.0,170.6 660.0,172.1 689.8,175.8 715.0,179.2 754.0,184.5 817.0,192.3 844.0,200.6 865.0,205.4 893.5,215.5 932.0,225.2 970.5,231.6 996.0,238.0 1015.0,239.5 1040.0,242.2 1058.0,244.1 1078.5,247.3 1097.8,251.2 1117.0,255.0 1137.6,258.9 1155.5,262.7 1168.4,265.9 1181.2,269.2 1188.9,272.4" fill="none" stroke="#ff00ff" stroke-width="1" shape-rendering="crispEdges"/>
<polyline points="5.0,209.4 50.0,202.4 80.0,202.2 85.0,201.0 105.0,201.0 115.0,202.4 122.0,203.6 150.0,202.5 155.0,203.3 185.0,203.3 198.8,202.0 216.8,198.8 247.6,193.9 278.4,189.2 300.0,186.2 309.0,185.2 316.0,186.0 322.0,185.2 337.0,185.2 345.0,186.2 352.0,186.2 361.6,188.1 370.0,190.3 382.0,190.3 387.0,189.2 395.0,187.5 402.7,184.3 415.5,181.3 425.8,178.5 436.0,174.7 447.6,167.6 460.0,160.9 480.0,152.0 503.8,144.3 516.7,140.4 532.0,134.0 548.0,127.3 558.4,127.3 566.8,131.8 582.0,138.5 596.3,144.3 609.0,154.6 625.8,168.0 641.0,177.0 654.0,184.7 660.0,186.6 675.7,196.3 700.0,209.2 705.0,212.8 715.0,221.2 728.0,228.2 741.0,233.4 756.0,236.6 771.7,239.2 795.0,243.6 818.0,248.1 833.0,251.0 850.0,252.4 866.0,253.4 888.0,253.4 906.0,250.5 929.5,247.6 957.7,243.5 983.0,239.3 996.0,238.6 1005.0,238.7 1022.0,237.3 1040.0,238.3 1055.4,240.3 1070.8,244.8 1085.0,250.5 1097.8,256.3 1106.8,263.4 1122.2,272.4 1140.1,281.3 1155.5,291.6 1172.2,302.5 1188.9,317.7" fill="none" stroke="#ff0000" stroke-width="1" shape-rendering="crispEdges"/>
<g shape-rendering="crispEdges">
<rect x="5" y="176" width="1206" height="2" fill="#ff0000"/>
<rect x="5" y="263" width="1206" height="2" fill="#ff0000"/>
<rect x="5" y="321" width="1206" height="2" fill="#ff0000"/>
<rect x="5" y="379" width="1206" height="2" fill="#00ff7f"/>
<rect x="4" y="261" width="6" height="6" fill="#ff0000"/>
<rect x="6" y="263" width="2" height="2" fill="#fff"/>
<rect x="1204" y="261" width="6" height="6" fill="#ff0000"/>
<rect x="1206" y="263" width="2" height="2" fill="#fff"/>
<rect x="4" y="319" width="6" height="6" fill="#ff0000"/>
<rect x="6" y="321" width="2" height="2" fill="#fff"/>
<rect x="1204" y="319" width="6" height="6" fill="#ff0000"/>
<rect x="1206" y="321" width="2" height="2" fill="#fff"/>
<rect x="4" y="377" width="6" height="6" fill="#00ff7f"/>
<rect x="6" y="379" width="2" height="2" fill="#fff"/>
<rect x="1204" y="377" width="6" height="6" fill="#00ff7f"/>
<rect x="1206" y="379" width="2" height="2" fill="#fff"/>
</g>
<text class="ax" x="1216" y="67" textLength="27.5" lengthAdjust="spacingAndGlyphs">70.920</text>
<text class="ax" x="1216" y="100" textLength="27.5" lengthAdjust="spacingAndGlyphs">69.780</text>
<text class="ax" x="1216" y="133" textLength="27.5" lengthAdjust="spacingAndGlyphs">68.640</text>
<text class="ax" x="1216" y="166" textLength="27.5" lengthAdjust="spacingAndGlyphs">67.500</text>
<text class="ax" x="1216" y="199" textLength="27.5" lengthAdjust="spacingAndGlyphs">66.360</text>
<text class="ax" x="1216" y="232" textLength="27.5" lengthAdjust="spacingAndGlyphs">65.250</text>
<text class="ax" x="1216" y="265" textLength="27.5" lengthAdjust="spacingAndGlyphs">64.110</text>
<text class="ax" x="1216" y="298" textLength="27.5" lengthAdjust="spacingAndGlyphs">62.970</text>
<text class="ax" x="1216" y="331" textLength="27.5" lengthAdjust="spacingAndGlyphs">61.830</text>
<text class="ax" x="1216" y="364" textLength="27.5" lengthAdjust="spacingAndGlyphs">60.690</text>
<text class="ax" x="1216" y="397" textLength="27.5" lengthAdjust="spacingAndGlyphs">59.580</text>
<text class="ax" x="1216" y="430" textLength="27.5" lengthAdjust="spacingAndGlyphs">58.440</text>
<g shape-rendering="crispEdges">
<rect x="1213" y="171" width="34" height="11" fill="#ff0000"/>
<rect x="1213" y="258" width="34" height="11" fill="#ff0000"/>
<rect x="1213" y="316" width="34" height="11" fill="#ff0000"/>
<rect x="1213" y="374" width="34" height="11" fill="#00ff7f"/>
<rect x="1213" y="395" width="34" height="11" fill="#000000"/>
</g>
<text class="axw" x="1216" y="180" textLength="27.5" lengthAdjust="spacingAndGlyphs">67.000</text>
<text class="axw" x="1216" y="267" textLength="27.5" lengthAdjust="spacingAndGlyphs">64.000</text>
<text class="axw" x="1216" y="325" textLength="27.5" lengthAdjust="spacingAndGlyphs">62.000</text>
<text class="axw" x="1216" y="383" textLength="27.5" lengthAdjust="spacingAndGlyphs">60.000</text>
<text class="axw" x="1216" y="404" textLength="27.5" lengthAdjust="spacingAndGlyphs">59.320</text>
<text class="ax" transform="translate(1213.3,442) scale(0.9375,1)">0.966</text>
<text class="ax" transform="translate(1213.3,493) scale(0.9375,1)">0.00</text>
<text class="ax" transform="translate(1213.3,559) scale(0.9375,1)">-1.2572</text>
<text class="ax" transform="translate(1214,575) scale(0.9375,1)">100</text>
<text class="ax" transform="translate(1213.3,603) scale(0.9375,1)">70</text>
<text class="ax" transform="translate(1213.3,648) scale(0.9375,1)">30</text>
<text class="ax" transform="translate(1214,675) scale(0.9375,1)">0</text>
<text class="ax" transform="translate(3.8,691) scale(0.9531,1)">19 Dec 2019</text>
<text class="ax" transform="translate(67.8,691) scale(0.9531,1)">23 Dec 00:00</text>
<text class="ax" transform="translate(131.8,691) scale(0.9531,1)">24 Dec 13:00</text>
<text class="ax" transform="translate(195.8,691) scale(0.9531,1)">27 Dec 01:00</text>
<text class="ax" transform="translate(259.8,691) scale(0.9531,1)">30 Dec 05:00</text>
<text class="ax" transform="translate(323.8,691) scale(0.9531,1)">31 Dec 13:00</text>
<text class="ax" transform="translate(387.8,691) scale(0.9531,1)">3 Jan 01:00</text>
<text class="ax" transform="translate(451.8,691) scale(0.9531,1)">6 Jan 05:00</text>
<text class="ax" transform="translate(515.8,691) scale(0.9531,1)">7 Jan 13:00</text>
<text class="ax" transform="translate(579.8,691) scale(0.9531,1)">8 Jan 21:00</text>
<text class="ax" transform="translate(643.8,691) scale(0.9531,1)">10 Jan 05:00</text>
<text class="ax" transform="translate(707.8,691) scale(0.9531,1)">13 Jan 08:00</text>
<text class="ax" transform="translate(771.8,691) scale(0.9531,1)">14 Jan 17:00</text>
<text class="ax" transform="translate(835.8,691) scale(0.9531,1)">16 Jan 01:00</text>
<text class="ax" transform="translate(899.8,691) scale(0.9531,1)">17 Jan 09:00</text>
<text class="ax" transform="translate(963.8,691) scale(0.9531,1)">20 Jan 12:00</text>
<text class="ax" transform="translate(1027.8,691) scale(0.9531,1)">21 Jan 21:00</text>
<text class="ax" transform="translate(1091.8,691) scale(0.9531,1)">23 Jan 05:00</text>
<text class="ax" transform="translate(1155.8,691) scale(0.9531,1)">24 Jan 13:00</text>
<path d="M8 40 L15 40 L11.5 44 Z" fill="#000"/>
<text class="ax" x="19" y="45" textLength="43.7" lengthAdjust="spacingAndGlyphs">UKOil-,H4</text>
<text class="ax" x="68.8" y="45" textLength="120.8" lengthAdjust="spacingAndGlyphs">59.060 59.320 58.920 59.320</text>
<text class="ax" x="8.4" y="444" textLength="133.6" lengthAdjust="spacingAndGlyphs">MACD(12,26,9) -1.1562 -0.8767</text>
<text class="ax" x="8.4" y="577" textLength="67.6" lengthAdjust="spacingAndGlyphs">RSI(14) 21.3133</text>
<text class="cj" x="738" y="126">多空转折点<tspan class="dg" dx="-1.2">60</tspan></text>
</svg></body></html>
